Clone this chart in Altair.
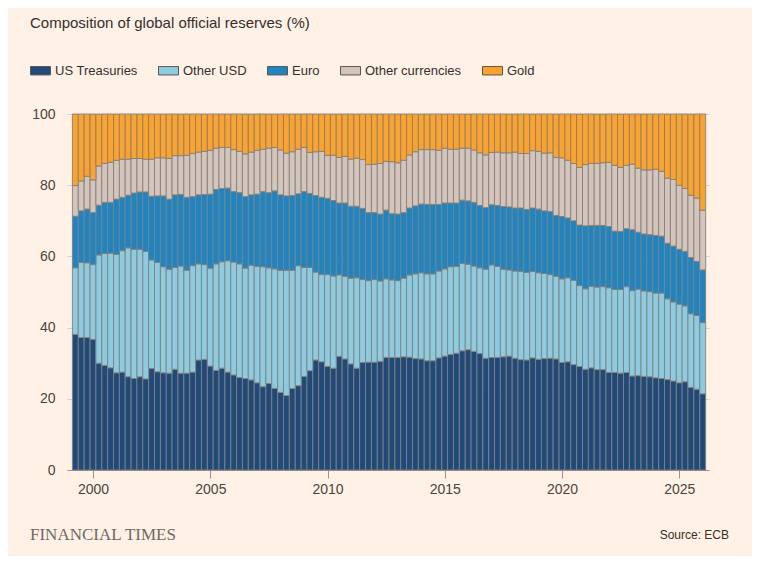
import altair as alt
import pandas as pd

# Quarter-end dates, 1999Q1 .. 2025Q4
YEARS = list(range(1999, 2026))
QUARTER_END = ["03-31", "06-30", "09-30", "12-31"]
QUARTERS = [f"{y}-{q}" for y in YEARS for q in QUARTER_END]

SERIES = ["US Treasuries", "Other USD", "Euro", "Other currencies", "Gold"]
COLORS = ["#1f4a7a", "#8dcbe1", "#1e85c2", "#d4c5bc", "#fca32e"]

US_TREASURIES = [
    38.1, 37.2, 37.2, 36.7, 30.0, 29.4, 28.7, 27.3, 27.5, 26.2, 25.7, 26.2,
    25.6, 28.5, 27.6, 27.3, 27.2, 28.3, 27.2, 27.2, 27.5, 30.9, 31.1, 29.2,
    28.0, 28.6, 27.5, 26.7, 26.0, 25.7, 25.3, 24.5, 23.4, 24.3, 22.9, 21.8,
    20.9, 22.9, 23.7, 26.3, 27.9, 30.9, 30.4, 29.1, 28.6, 31.9, 31.2, 29.8,
    28.6, 30.2, 30.3, 30.3, 30.5, 31.6, 31.6, 31.6, 31.8, 31.7, 31.3, 31.2,
    30.7, 30.7, 31.5, 32.0, 32.5, 32.8, 33.5, 33.8, 33.3, 32.7, 31.4, 31.6,
    31.6, 31.8, 32.0, 31.4, 31.0, 30.9, 31.5, 31.1, 31.3, 31.4, 31.2, 30.2,
    30.4, 29.6, 29.1, 28.3, 28.7, 28.2, 28.2, 27.4, 27.4, 27.2, 27.4, 26.4,
    26.5, 26.3, 26.2, 25.9, 25.7, 25.4, 25.0, 24.5, 24.8, 23.2, 22.7, 21.4,
]
OTHER_USD = [
    18.7, 21.1, 21.0, 21.0, 30.4, 31.4, 32.2, 33.3, 34.1, 36.2, 36.3, 35.8,
    35.8, 30.5, 30.7, 29.8, 29.2, 28.6, 30.1, 28.9, 29.9, 27.0, 26.6, 27.5,
    29.9, 29.9, 31.3, 31.7, 31.9, 31.0, 32.2, 32.7, 33.7, 32.5, 33.6, 34.3,
    35.2, 33.2, 33.7, 30.6, 29.0, 24.7, 24.5, 25.8, 25.9, 22.9, 23.2, 24.1,
    25.4, 23.3, 22.9, 23.2, 22.6, 22.1, 21.8, 21.6, 22.1, 23.1, 23.8, 24.2,
    24.4, 24.4, 24.4, 24.5, 24.6, 24.4, 24.5, 24.0, 24.0, 24.1, 25.0, 26.0,
    25.6, 24.6, 24.2, 24.5, 24.8, 24.6, 24.3, 24.3, 23.9, 23.5, 23.2, 23.5,
    23.6, 23.7, 22.7, 22.6, 22.9, 23.2, 23.3, 23.8, 23.3, 23.5, 24.1, 24.0,
    24.3, 24.0, 23.9, 23.8, 24.0, 22.7, 22.2, 22.1, 21.3, 20.7, 20.7, 20.0,
]
EURO = [
    14.5, 14.5, 15.1, 14.6, 14.0, 14.4, 14.3, 15.5, 15.0, 14.8, 15.8, 16.1,
    16.7, 17.9, 18.7, 19.9, 19.7, 20.4, 20.1, 20.5, 19.4, 19.4, 19.7, 20.8,
    20.9, 20.6, 20.4, 19.8, 20.0, 20.1, 19.8, 20.3, 21.1, 21.1, 21.9, 21.2,
    20.9, 21.0, 20.2, 21.3, 20.8, 21.5, 21.7, 21.4, 21.2, 20.2, 20.6, 20.2,
    20.1, 20.0, 19.1, 18.8, 18.8, 19.3, 18.6, 18.7, 18.4, 18.8, 19.1, 19.3,
    19.5, 19.5, 18.7, 18.5, 17.9, 17.8, 17.8, 17.8, 17.9, 17.5, 17.3, 16.9,
    17.1, 17.6, 17.7, 17.7, 17.8, 17.7, 17.8, 17.9, 17.6, 17.7, 17.1, 17.5,
    16.8, 16.7, 17.0, 17.7, 17.1, 17.3, 17.2, 17.2, 16.4, 16.3, 16.3, 17.1,
    16.0, 16.0, 16.0, 16.2, 16.0, 15.6, 15.7, 15.4, 15.3, 15.8, 15.2, 14.8,
]
OTHER_CURRENCIES = [
    8.6, 8.4, 9.2, 9.2, 11.0, 10.9, 11.2, 10.9, 10.7, 10.1, 9.7, 9.4,
    9.2, 10.4, 10.7, 10.7, 11.4, 11.0, 10.9, 11.8, 12.1, 12.0, 12.1, 12.3,
    11.6, 11.5, 11.4, 11.8, 11.6, 12.0, 12.0, 12.3, 11.9, 12.5, 12.2, 12.6,
    12.0, 12.3, 12.5, 12.4, 11.5, 12.3, 12.9, 12.1, 12.7, 12.8, 13.1, 13.2,
    13.5, 13.7, 13.5, 13.6, 14.2, 13.7, 14.6, 14.4, 14.7, 14.9, 15.2, 15.3,
    15.4, 15.4, 15.2, 15.4, 15.1, 15.1, 14.6, 14.8, 14.7, 14.8, 14.8, 14.7,
    15.0, 15.1, 15.2, 15.7, 15.3, 15.7, 16.1, 16.2, 16.2, 16.5, 16.3, 16.5,
    16.2, 16.1, 16.2, 17.2, 17.4, 17.4, 17.6, 18.0, 18.5, 18.0, 17.8, 18.4,
    18.0, 18.0, 18.2, 18.6, 18.2, 18.3, 18.7, 18.0, 17.7, 17.5, 17.8, 16.8,
]
GOLD = [
    20.1, 18.8, 17.5, 18.5, 14.6, 13.9, 13.6, 13.0, 12.7, 12.7, 12.5, 12.5,
    12.7, 12.7, 12.3, 12.3, 12.5, 11.7, 11.7, 11.6, 11.1, 10.7, 10.5, 10.2,
    9.6, 9.4, 9.4, 10.0, 10.5, 11.2, 10.7, 10.2, 9.9, 9.6, 9.4, 10.1,
    11.0, 10.6, 9.9, 9.4, 10.8, 10.6, 10.5, 11.6, 11.6, 12.2, 11.9, 12.7,
    12.4, 12.8, 14.2, 14.1, 13.9, 13.3, 13.4, 13.7, 13.0, 11.5, 10.6, 10.0,
    10.0, 10.0, 10.2, 9.6, 9.9, 9.9, 9.6, 9.6, 10.1, 10.9, 11.5, 10.8,
    10.7, 10.9, 10.9, 10.7, 11.1, 11.1, 10.3, 10.5, 11.0, 10.9, 12.2, 12.3,
    13.0, 13.9, 15.0, 14.2, 13.9, 13.9, 13.7, 13.6, 14.4, 15.0, 14.4, 14.1,
    15.2, 15.7, 15.7, 15.5, 16.1, 18.0, 18.4, 20.0, 20.9, 22.8, 23.6, 27.0,
]

TITLE = "Composition of global official reserves (%)"
FOOTER = "FINANCIAL TIMES"
SOURCE = "Source: ECB"
X_TICK_YEARS = [2000, 2005, 2010, 2015, 2020, 2025]
Y_TICKS = [0, 20, 40, 60, 80, 100]

rows = []
for s_idx, (name, vals) in enumerate(zip(
        SERIES, [US_TREASURIES, OTHER_USD, EURO, OTHER_CURRENCIES, GOLD])):
    for d, v in zip(QUARTERS, vals):
        rows.append({"date": d, "series": name, "value": v, "idx": s_idx})
df = pd.DataFrame(rows)

TEXT_COLOR = "#33302e"
FONT = "Liberation Sans"

bars = alt.Chart(df).mark_bar(
    size=5.9, stroke="#857f7a", strokeWidth=0.9
).encode(
    x=alt.X(
        "date:T",
        scale=alt.Scale(
            type="utc", padding=0,
            domain=[alt.DateTime(year=1998, month=11, date=21, utc=True),
                    alt.DateTime(year=2026, month=4, date=8, utc=True)],
        ),
        axis=alt.Axis(
            values=[alt.DateTime(year=y, month=1, date=1, utc=True) for y in X_TICK_YEARS],
            format="%Y", title=None, grid=False,
            labelFontSize=14, labelColor="#4a4541", labelPadding=4,
            tickSize=8, tickColor="#9a9490", domainColor="#9a9490",
        ),
    ),
    y=alt.Y(
        "value:Q", stack="zero",
        scale=alt.Scale(domain=[0, 100], nice=False),
        axis=alt.Axis(
            values=Y_TICKS, title=None, ticks=False, tickSize=0, domain=False,
            grid=True, gridColor="#d9d0c7", labelFontSize=14,
            labelColor="#4a4541", labelPadding=12,
        ),
    ),
    color=alt.Color(
        "series:N",
        scale=alt.Scale(domain=SERIES, range=COLORS),
        legend=alt.Legend(
            orient="none", legendX=-37, legendY=-54, direction="horizontal",
            title=None, padding=0,
            symbolType="M-1,-0.42L1,-0.42L1,0.42L-1,0.42Z", symbolSize=400,
            symbolStrokeColor="#5a5550", symbolStrokeWidth=1, symbolOpacity=1,
            labelFontSize=13, labelColor=TEXT_COLOR, labelOffset=4,
            columnPadding=18,
        ),
    ),
    order=alt.Order("idx:Q", sort="ascending"),
)

title_t = alt.Chart(pd.DataFrame({"t": [TITLE]})).mark_text(
    align="left", baseline="alphabetic", fontSize=15, color=TEXT_COLOR, font=FONT
).encode(x=alt.value(-37), y=alt.value(-86), text="t:N")

footer_t = alt.Chart(pd.DataFrame({"t": [FOOTER]})).mark_text(
    align="left", baseline="alphabetic", fontSize=17, color="#6f6863",
    font="Liberation Serif"
).encode(x=alt.value(-37), y=alt.value(426), text="t:N")

source_t = alt.Chart(pd.DataFrame({"t": [SOURCE]})).mark_text(
    align="right", baseline="alphabetic", fontSize=12, color=TEXT_COLOR, font=FONT
).encode(x=alt.value(662), y=alt.value(425), text="t:N")

chart = alt.layer(bars, title_t, footer_t, source_t).properties(
    width=642, height=356,
    autosize=alt.AutoSizeParams(type="none"),
    padding={"left": 59, "top": 106, "right": 43, "bottom": 86},
).configure(
    background="#fff1e5", font=FONT
).configure_view(stroke=None)

chart.save("out.html", embed_options={"renderer": "svg", "actions": False})
